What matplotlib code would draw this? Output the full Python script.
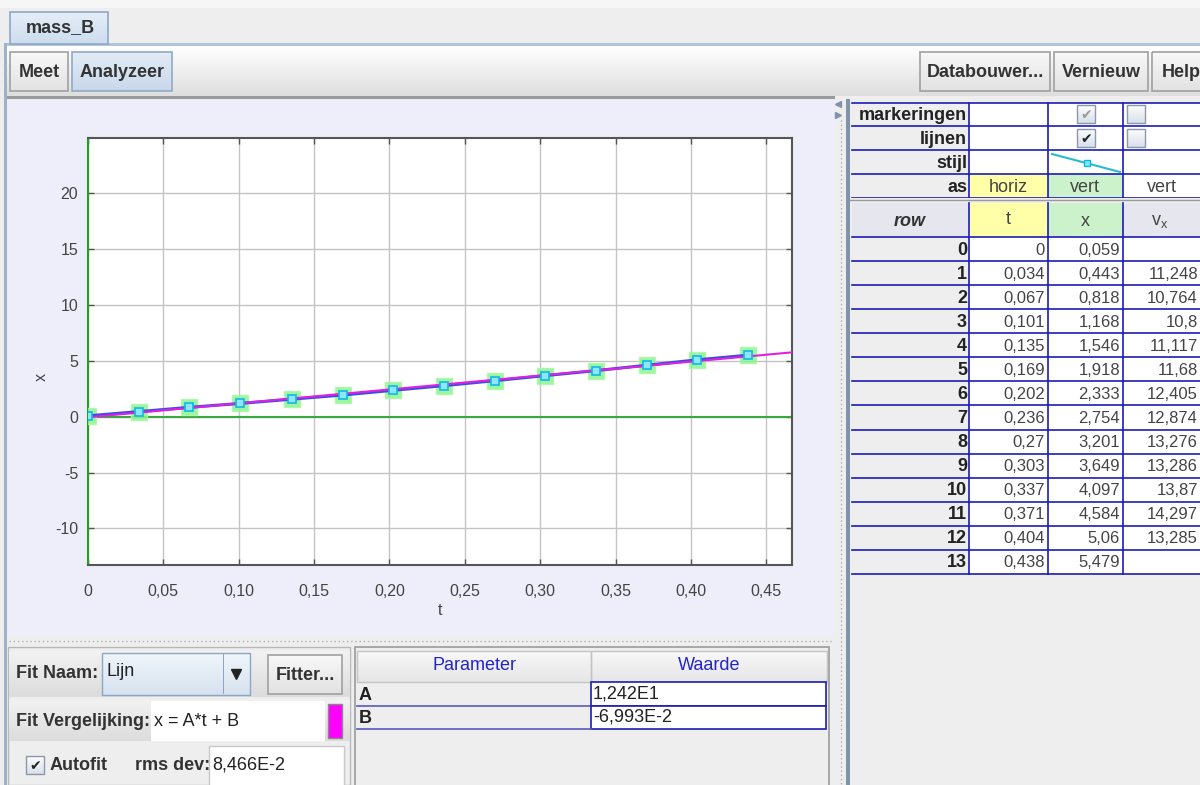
import matplotlib
matplotlib.use('Agg')
import matplotlib.pyplot as plt
import numpy as np
from matplotlib.patches import Rectangle
from matplotlib.colors import LinearSegmentedColormap

plt.rcParams['font.family'] = ['Liberation Sans', 'DejaVu Sans']

# measured data (table columns)
t_vals = [0, 0.034, 0.067, 0.101, 0.135, 0.169, 0.202, 0.236, 0.27, 0.303, 0.337, 0.371, 0.404, 0.438]
x_vals = [0.059, 0.443, 0.818, 1.168, 1.546, 1.918, 2.333, 2.754, 3.201, 3.649, 4.097, 4.584, 5.06, 5.479]
vx_vals = [None, 11.248, 10.764, 10.8, 11.117, 11.68, 12.405, 12.874, 13.276, 13.286, 13.87, 14.297, 13.285, None]

# fit result x = A*t + B
fit_A = 12.42
fit_B = -0.06993
rms_dev = 0.08466

xticks = [0, 0.05, 0.10, 0.15, 0.20, 0.25, 0.30, 0.35, 0.40, 0.45]
yticks = [-10, -5, 0, 5, 10, 15, 20]

BLUE = '#1c1cb4'
UI = 13      # label font size of the java widgets
NUM = 12     # numbers in the data table


def comma(v):
    return f'{v:g}'.replace('.', ',')


def jexp(v):
    m, e = f'{v:.3E}'.split('E')
    return m.replace('.', ',') + 'E' + str(int(e))


fig = plt.figure(figsize=(12, 7.85), dpi=100)
fig.patch.set_facecolor('#eeeeee')

ui = fig.add_axes([0, 0, 1, 1])
ui.set_xlim(0, 1200)
ui.set_ylim(785, 0)
ui.axis('off')


def box(x0, y0, x1, y1, fc, ec='none', lw=1.0, z=1):
    ui.add_patch(Rectangle((x0, y0), x1 - x0, y1 - y0, facecolor=fc,
                           edgecolor=ec, linewidth=lw, zorder=z))


def grad(x0, y0, x1, y1, c0, c1, z=1):
    cm = LinearSegmentedColormap.from_list('g', [c0, c1])
    ui.imshow(np.linspace(0, 1, 64)[:, None], cmap=cm, extent=(x0, x1, y1, y0),
              aspect='auto', zorder=z, interpolation='bilinear')


def txt(x, y, s, size=UI, ha='left', va='center', color='#222222', bold=False, z=5, **kw):
    ui.text(x, y, s, fontsize=size, ha=ha, va=va, color=color,
            fontweight='bold' if bold else 'normal', zorder=z, **kw)


def button(x0, y0, x1, y1, label, fc0='#f8f8f8', fc1='#e2e2e2', ec='#a0a0a0'):
    grad(x0, y0, x1, y1, fc0, fc1, z=2)
    box(x0, y0, x1, y1, 'none', ec, 1.2, z=3)
    txt((x0 + x1) / 2, (y0 + y1) / 2 + 1, label, ha='center', bold=True, color='#333333')


def checkbox(cx, cy, checked=False, dark=True):
    grad(cx - 9, cy - 9, cx + 9, cy + 9, '#fdfdfd', '#d8e0ea', z=6)
    box(cx - 9, cy - 9, cx + 9, cy + 9, 'none', '#8a98ac', 1.0, z=7)
    if checked:
        ui.text(cx, cy + 1, '\u2714', fontsize=10, ha='center', va='center', zorder=8,
                color='#222222' if dark else '#9a9a9a', family=['DejaVu Sans'])


# ---- tab bar and toolbar ----
box(0, 0, 1200, 8, '#f6f6f6')
grad(10, 12, 108, 44, '#e6eef8', '#ccdcee', z=2)
box(10, 12, 108, 44, 'none', '#8ea6c6', 1.2, z=3)
txt(60, 28, 'mass_B', ha='center', bold=True, color='#333333')
box(5, 43, 1200, 46, '#b3c5dc')
grad(6, 46, 1200, 96, '#ffffff', '#dedede')
button(10, 52, 68, 91, 'Meet')
button(72, 52, 172, 91, 'Analyzeer', fc0='#e2ecf6', fc1='#c8d8ea', ec='#94a8c4')
button(920, 52, 1050, 91, 'Databouwer...')
button(1054, 52, 1148, 91, 'Vernieuw')
button(1152, 52, 1210, 91, 'Help')
box(4, 43, 7, 785, '#9fb2cc', z=4)

# ---- plot panel ----
box(7, 96, 835, 636, '#eeeefa')
box(7, 96, 835, 99, '#9a9a9a', z=2)
box(7, 636, 835, 646, '#eeeeee')
ui.plot([9, 833], [641, 641], ls=(0, (1, 2)), color='#b0b0b0', lw=1, zorder=3)
box(835, 96, 847, 785, '#eeeeee')
ui.plot([841, 841], [120, 785], ls=(0, (1, 2)), color='#b0b0b0', lw=1, zorder=3)
ui.plot([838], [104], marker='<', ms=5, color='#7f93ad', zorder=4)
ui.plot([838], [115], marker='>', ms=5, color='#7f93ad', zorder=4)

# ---- fit controls ----
box(8, 647, 350, 785, '#eeeeee', '#b8b8b8', 1.0)
grad(9, 651, 350, 697, '#f2f2f2', '#dcdcdc', z=2)
txt(16, 674, 'Fit Naam:', bold=True, color='#333333')
grad(102, 653, 250, 695, '#f0f5fb', '#d6e2ef', z=3)
box(102, 653, 250, 695, 'none', '#8ea6c6', 1.0, z=4)
box(223, 654, 224, 694, '#8ea6c6', z=4)
ui.plot([236], [674], marker='v', ms=7, color='#222222', zorder=6)
txt(106, 671, 'Lijn')
button(268, 655, 342, 694, 'Fitter...')

grad(9, 700, 350, 741, '#f2f2f2', '#dcdcdc', z=2)
txt(16, 721, 'Fit Vergelijking:', bold=True, color='#333333')
box(151, 701, 325, 741, 'white', z=3)
txt(154, 721, 'x = A*t + B')
box(328, 704, 342, 738, '#ff00ff', '#888888', 1.0, z=3)

checkbox(35, 765, checked=True)
txt(50, 765, 'Autofit', bold=True, color='#333333')
txt(135, 765, 'rms dev:', bold=True, color='#333333')
box(209, 746, 344, 786, 'white', '#c8c8c8', 1.0, z=3)
txt(212, 765, jexp(rms_dev))

# ---- parameter table ----
box(355, 647, 829, 786, '#eeeeee', '#9a9a9a', 1.2)
for x0, x1, lab in [(357, 591, 'Parameter'), (591, 827, 'Waarde')]:
    grad(x0, 651, x1, 682, '#f8f8f8', '#e6e6e6', z=2)
    box(x0, 651, x1, 682, 'none', '#c4c4c4', 1.0, z=3)
    txt((x0 + x1) / 2, 666, lab, ha='center', color='#2424c8')
for i, (name, val) in enumerate([('A', fit_A), ('B', fit_B)]):
    y0 = 682 + i * 23.5
    box(591, y0, 826, y0 + 23.5, 'white', BLUE, 1.2, z=3)
    ui.plot([357, 591], [y0 + 23.5, y0 + 23.5], color='#5a5ac4', lw=1.2, zorder=3)
    txt(359, y0 + 13, name, bold=True)
    txt(593, y0 + 12, jexp(val))

# ---- data table (right) ----
cols = [852, 969, 1048, 1123, 1206]
box(847, 96, 1200, 785, '#eeeeee')
box(846, 99, 850, 785, '#8093aa', z=2)
top_rows = [103, 126, 150, 174, 198]
top_labels = ['markeringen', 'lijnen', 'stijl', 'as']
for r, lab in enumerate(top_labels):
    y0, y1 = top_rows[r], top_rows[r + 1]
    for c in range(3):
        fc = 'white'
        if lab == 'as' and c == 0:
            fc = '#ffffa8'
        if lab == 'as' and c == 1:
            fc = '#ccf2cc'
        box(cols[c + 1], y0, cols[c + 2], y1, fc, z=2)
    txt(967, (y0 + y1) / 2 + 1, lab, ha='right', bold=True)
checkbox(1086, 114, checked=True, dark=False)
checkbox(1136, 114)
checkbox(1086, 138, checked=True, dark=True)
checkbox(1136, 138)
ui.plot([1052, 1120], [154, 172], color='#28bcd0', lw=1.5, zorder=6)
ui.plot([1087], [163], marker='s', ms=5, mfc='#7fe8ff', mec='#10b8e0', zorder=7)
txt(1008, 187, 'horiz', ha='center', color='#444444')
txt(1085, 187, 'vert', ha='center', color='#444444')
txt(1162, 187, 'vert', ha='center', color='#444444')
for y in top_rows:
    ui.plot([852, 1200], [y, y], color=BLUE, lw=1.2, zorder=8)
for x in cols[1:4]:
    ui.plot([x, x], [103, 198], color=BLUE, lw=1.2, zorder=8)
box(850, 198, 1200, 203, '#eeeeee', z=8)
ui.plot([850, 1200], [200, 200], color='#9a9a9a', lw=1, zorder=9)

# header row
hdr_y0, hdr_y1 = 203, 237
for c, fc in enumerate(['#e6e6ee', '#ffffa8', '#ccf2cc', '#e6e6ee']):
    box(cols[c], hdr_y0, cols[c + 1], hdr_y1, fc, z=2)
txt(910, 221, 'row', ha='center', bold=True, style='italic', color='#333333')
txt(1008, 220, 't', ha='center', color='#444444')
txt(1085, 221, 'x', ha='center', color='#444444')
txt(1160, 221, r'$\mathregular{v_x}$', ha='center', color='#444444')

row_h = 24.07
for i in range(len(t_vals)):
    y0 = 237 + i * row_h
    cy = y0 + row_h / 2 + 1
    box(cols[1], y0, 1200, y0 + row_h, 'white', z=2)
    txt(967, cy, str(i), ha='right', bold=True)
    txt(1045, cy, comma(t_vals[i]), size=NUM, ha='right', color='#444444')
    txt(1120, cy, comma(x_vals[i]), size=NUM, ha='right', color='#444444')
    if vx_vals[i] is not None:
        txt(1198, cy, comma(vx_vals[i]), size=NUM, ha='right', color='#444444')
n_rows = len(t_vals)
for i in range(n_rows + 1):
    y = 237 + i * row_h
    ui.plot([852, 1200], [y, y], color=BLUE, lw=1.2, zorder=8)
for x in cols[1:4]:
    ui.plot([x, x], [hdr_y0, 237 + n_rows * row_h], color=BLUE, lw=1.2, zorder=8)

# ---- the graph ----
ax = fig.add_axes([88 / 1200, (785 - 565) / 785, (792 - 88) / 1200, (565 - 138) / 785])
ax.set_facecolor('white')
ax.set_xlim(0, 0.467)
ax.set_ylim(-13.26, 24.87)
ax.set_xticks(xticks)
ax.set_yticks(yticks)
ax.set_xticklabels(['0' if v == 0 else f'{v:.2f}'.replace('.', ',') for v in xticks])
ax.set_yticklabels([str(v) for v in yticks])
ax.grid(True, color='#c4c4c4', lw=1)
ax.set_axisbelow(True)
ax.tick_params(direction='in', length=4, width=1, color='#555555', labelcolor='#444444',
               labelsize=11.5, top=True, right=True)
ax.tick_params(axis='x', pad=14)
ax.tick_params(axis='y', pad=7)
for side in ['top', 'right', 'bottom']:
    ax.spines[side].set_color('#555555')
    ax.spines[side].set_linewidth(1.5)
ax.spines['left'].set_color('#22a022')
ax.spines['left'].set_linewidth(1.5)
ax.axhline(0, color='#3aa83a', lw=1.5, zorder=2)

ax.set_xlabel('t', fontsize=11.5, color='#444444')
ax.set_ylabel('x', fontsize=11.5, color='#444444')
ax.xaxis.set_label_coords(0.5, -0.09)
ax.yaxis.set_label_coords(-0.056, 0.44)

ax.plot(t_vals, x_vals, ls='none', marker='s', ms=12, mfc='#8cf58c', mec='#a8f8a8',
        alpha=0.85, zorder=3)
ax.plot(t_vals, x_vals, color='#3a4ee0', lw=2.2, zorder=4)
tt = np.array(ax.get_xlim())
ax.plot(tt, fit_A * tt + fit_B, color='#e020e0', lw=1.5, zorder=5)
ax.plot(t_vals, x_vals, ls='none', marker='s', ms=6, mfc='#8fe6ff', mec='#10b8e8',
        mew=1.2, zorder=6)

fig.savefig('out.png', dpi=100, facecolor=fig.get_facecolor())
